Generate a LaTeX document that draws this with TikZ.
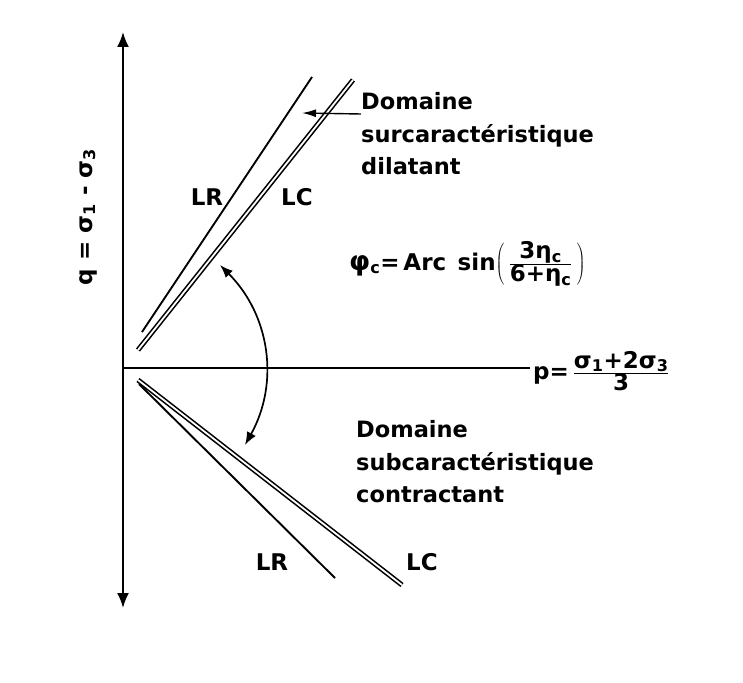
\documentclass[tikz,border=0pt]{standalone}
\usepackage{fontspec}
\setsansfont{DejaVu Sans}
\usetikzlibrary{arrows.meta}

\begin{document}
\begin{tikzpicture}[x=1pt,y=-1pt,>={Latex[length=13pt,width=10pt]},font=\sffamily\bfseries]
\tikzstyle{axis}=[line width=2pt]
\tikzstyle{lr}=[line width=1.9pt]
\tikzstyle{lc}=[double,double distance=1.8pt,line width=1.6pt]
\tikzstyle{lbl}=[inner sep=0pt,font=\sffamily\bfseries\fontsize{23}{26}\selectfont]
\tikzstyle{note}=[inner sep=0pt,align=left,font=\sffamily\bfseries\fontsize{22.5}{32.5}\selectfont]
\tikzstyle{formula}=[inner sep=0pt,font=\sffamily\bfseries\fontsize{23}{26}\selectfont]

\useasboundingbox[fill=white] (0,0) rectangle (743,682);

% axes
\coordinate (qtop) at (123,32);
\coordinate (qbot) at (123,608);
\coordinate (origin) at (123,368);
\coordinate (pend) at (530,368);
\draw[axis,{Latex[length=15pt,width=12pt]}-{Latex[length=15pt,width=12pt]}] (qbot) -- (qtop);
\draw[axis] (origin) -- (pend);

% upper lines
\coordinate (lrup0) at (142,332);
\coordinate (lrup1) at (312,77);
\coordinate (lcup0) at (138,350);
\coordinate (lcup1) at (353,80);
\draw[lr] (lrup0) -- (lrup1);
\draw[lc] (lcup0) -- (lcup1);

% lower lines
\coordinate (lrdn0) at (139,384);
\coordinate (lrdn1) at (335,578);
\coordinate (lcdn0) at (138,380);
\coordinate (lcdn1) at (402,585);
\draw[lr] (lrdn0) -- (lrdn1);
\draw[lc] (lcdn0) -- (lcdn1);

% labels
\node[lbl] (lrup) at (207,197) {LR};
\node[lbl] (lcup) at (297,197) {LC};
\node[lbl] (lrdn) at (272,562) {LR};
\node[lbl] (lcdn) at (422,562) {LC};

\node[note,anchor=west] (surc) at (361,134) {Domaine\\surcaractéristique\\dilatant};
\node[note,anchor=west] (subc) at (356,462) {Domaine\\subcaractéristique\\contractant};

\coordinate (surcfrom) at (361,114);
\coordinate (surctip) at (302,113);
\draw[line width=1.4pt,-{Latex[length=14pt,width=8pt]}] (surcfrom) -- (surctip);

% friction angle
\coordinate (phitop) at (220,265);
\coordinate (phibot) at (245,445);
\draw[line width=1.7pt,<->] (phibot) to[bend right=37] (phitop);
\node[formula,anchor=west] (phic) at (349,264) {{\fontsize{27}{27}\selectfont φ}\textsubscript{c}=\,Arc\enspace sin$\left(\mkern3mu\frac{\mbox{3η\textsubscript{c}}}{\mbox{6+η\textsubscript{c}}}\mkern3mu\right)$};

% axis labels
\node[formula,anchor=west] (plabel) at (533,371) {p=\,$\frac{\mbox{σ\textsubscript{1}+2σ\textsubscript{3}}}{\mbox{3}}$};
\node[formula,rotate=90] (qlabel) at (88,217) {q = σ\textsubscript{1} - σ\textsubscript{3}};
\end{tikzpicture}
\end{document}
